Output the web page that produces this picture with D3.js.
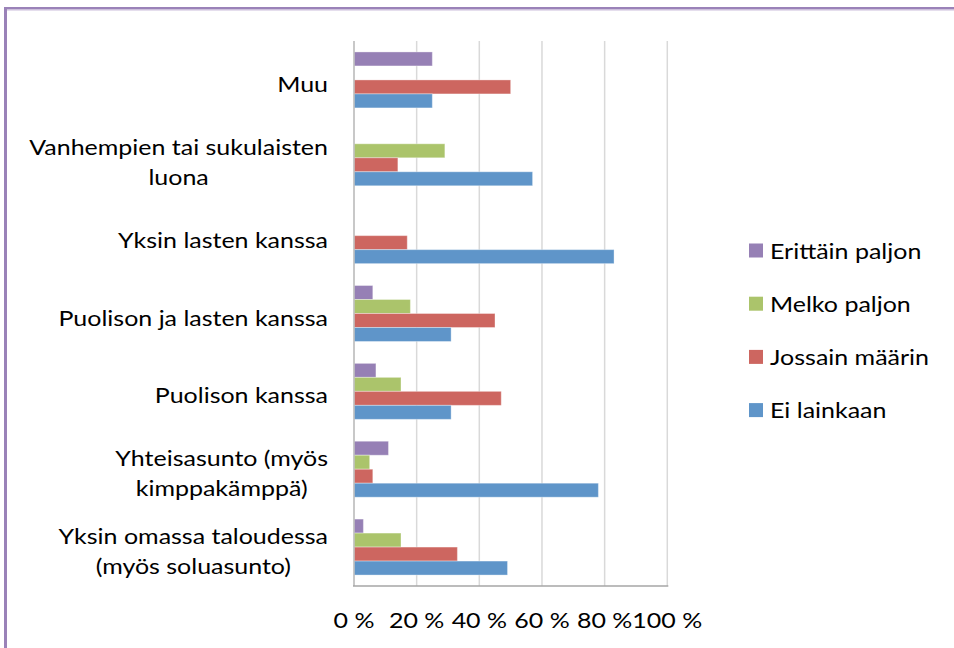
<!DOCTYPE html>
<html><head><meta charset="utf-8">
<script src="https://cdn.jsdelivr.net/npm/d3@7"></script>
<style>body{margin:0;background:#fff;} svg{display:block;}</style>
</head><body>
<script>
const categories = ["Muu", "Vanhempien tai sukulaisten|luona", "Yksin lasten kanssa", "Puolison ja lasten kanssa", "Puolison kanssa", "Yhteisasunto (myös|kimppakämppä)", "Yksin omassa taloudessa|(myös soluasunto)"];
const seriesNames = ["Erittäin paljon", "Melko paljon", "Jossain määrin", "Ei lainkaan"];
const erittainPaljon = [25, 0, 0, 6, 7, 11, 3];
const melkoPaljon = [0, 29, 0, 18, 15, 5, 15];
const jossainMaarin = [50, 14, 17, 45, 47, 6, 33];
const eiLainkaan = [25, 57, 83, 31, 31, 78, 49];
const tickValues = [0, 20, 40, 60, 80, 100];
const colors = ["#9680b5", "#abc46b", "#cd6660", "#5f95c9"];

const seriesData = [erittainPaljon, melkoPaljon, jossainMaarin, eiLainkaan];
const W = 954, H = 648;
const FONT = "Lato, 'Open Sans', sans-serif";
const svg = d3.select("body").append("svg").attr("width", W).attr("height", H);

// frame
svg.append("rect").attr("x", 4).attr("y", 7).attr("width", 3).attr("height", H - 7).attr("fill", "#9a82b8");
svg.append("rect").attr("x", 4).attr("y", 7).attr("width", W - 4).attr("height", 2.5).attr("fill", "#9a82b8");
svg.append("rect").attr("x", 7).attr("y", 9.5).attr("width", W - 7).attr("height", 1).attr("fill", "#cbbddc");

const x = d3.scaleLinear().domain([0, 100]).range([354, 667.3]);
const y = d3.scaleBand().domain(categories).range([41, 586]).paddingInner(0.2812).paddingOuter(0.1406);
const yInner = d3.scaleBand().domain(seriesNames).range([0, y.bandwidth()]);

// gridlines
svg.append("g").selectAll("line").data(tickValues).join("line")
  .attr("x1", d => x(d)).attr("x2", d => x(d)).attr("y1", 41).attr("y2", 586)
  .attr("stroke", "#d9d9d9").attr("stroke-width", 1.5);

// bars
const groups = svg.append("g").selectAll("g").data(categories).join("g")
  .attr("transform", c => `translate(0,${y(c)})`);
groups.each(function(c, ci) {
  d3.select(this).selectAll("rect").data(seriesNames).join("rect")
    .attr("x", x(0))
    .attr("y", s => yInner(s))
    .attr("height", yInner.bandwidth())
    .attr("width", (s, si) => x(seriesData[si][ci]) - x(0))
    .attr("fill", (s, si) => colors[si])
    .attr("stroke", "#fff").attr("stroke-opacity", 0.35).attr("stroke-width", 1)
    .style("display", (s, si) => seriesData[si][ci] > 0 ? null : "none");
});

// axes lines
svg.append("line").attr("x1", x(0)).attr("x2", x(0)).attr("y1", 41).attr("y2", 586).attr("stroke", "#bfbfbf").attr("stroke-width", 1.5);
svg.append("line").attr("x1", x(0) - 1).attr("x2", x(100) + 1).attr("y1", 586).attr("y2", 586).attr("stroke", "#a6a6a6").attr("stroke-width", 1.5);

const SX = 1.19, SY = 1.05, FS = 21;
function stretchedText(g, px, py, str, anchor) {
  return g.append("text").attr("transform", `translate(${px},${py}) scale(${SX},${SY})`)
    .attr("text-anchor", anchor).attr("font-family", FONT).attr("font-size", FS)
    .attr("fill", "#000").text(str);
}

// x tick labels
const xt = svg.append("g");
tickValues.forEach(t => stretchedText(xt, x(t), 628, t + " %", "middle"));

// category labels: block right-aligned, lines centered within block
const yl = svg.append("g");
categories.forEach(c => {
  const lines = c.split("|");
  const cy = y(c) + y.bandwidth() / 2;
  const lh = 30;
  const first = cy + 12 - (lines.length - 1) * lh / 2;
  const texts = lines.map((ln, i) => stretchedText(yl, 0, first + i * lh, ln, "middle"));
  const maxW = d3.max(texts, t => t.node().getComputedTextLength()) * SX;
  const cx = 328 - maxW / 2;
  texts.forEach((t, i) => t.attr("transform", `translate(${cx},${first + i * lh}) scale(${SX},${SY})`));
});

// legend
const lg = svg.append("g");
seriesNames.forEach((s, i) => {
  const cy = 250.5 + i * 53.2;
  lg.append("rect").attr("x", 749).attr("y", cy - 7).attr("width", 14).attr("height", 14).attr("fill", colors[i]);
  stretchedText(lg, 770, cy + 8, s, "start");
});
</script>
</body></html>
